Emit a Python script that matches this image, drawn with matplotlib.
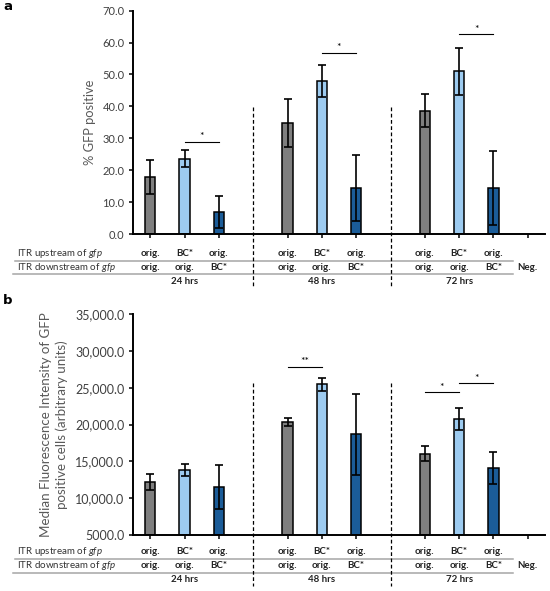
import matplotlib
matplotlib.use("Agg")
import matplotlib.pyplot as plt
from matplotlib.transforms import blended_transform_factory
from matplotlib.lines import Line2D

plt.rcParams['font.family'] = ['Lato', 'DejaVu Sans']
plt.rcParams['mathtext.fontset'] = 'custom'
plt.rcParams['mathtext.rm'] = 'Lato'
plt.rcParams['mathtext.it'] = 'Lato:italic'

# ---------------- data ----------------
slots = [0, 1, 2, 4, 5, 6, 8, 9, 10]
tick_slots = [0, 1, 2, 4, 5, 6, 8, 9, 10, 11]
colors = ['#7f7f7f', '#9dcbf0', '#1b5c98'] * 3
upstream = ['orig.', 'BC*', 'orig.'] * 3
downstream = ['orig.', 'orig.', 'BC*'] * 3
groups = ['24 hrs', '48 hrs', '72 hrs']
group_slots = [1, 5, 9]
neg_label = 'Neg.'

gfp_pos = [17.9, 23.6, 6.8, 34.9, 47.9, 14.5, 38.7, 51.0, 14.5]
gfp_err = [5.3, 2.7, 5.0, 7.5, 5.1, 10.4, 5.2, 7.3, 11.6]
a_ticks = [0, 10, 20, 30, 40, 50, 60, 70]
a_ticklabels = ['0.0', '10.0', '20.0', '30.0', '40.0', '50.0', '60.0', '70.0']
a_sig = [(1, 2, 28.9, '*'), (5, 6, 56.8, '*'), (9, 10, 62.6, '*')]

mfi = [12150, 13850, 11550, 20300, 25450, 18650, 16050, 20750, 14100]
mfi_err = [1080, 850, 2980, 560, 920, 5550, 1070, 1430, 2200]
b_ticks = [5000, 10000, 15000, 20000, 25000, 30000, 35000]
b_ticklabels = ['5000.0', '10,000.0', '15,000.0', '20,000.0', '25,000.0', '30,000.0', '35,000.0']
b_sig = [(4, 5, 27850, '**'), (8, 9, 24370, '*'), (9, 10, 25590, '*')]

W, H = 550, 591
fig = plt.figure(figsize=(W / 100, H / 100), dpi=100)

TFS = 7.0


def fy(px):
    return 1 - px / H


def fx(px):
    return px / W


def panel(top_px, bot_px, vals, errs, ylim, ticks, ticklabels, sig, ylabel,
          tick_fs, ylab_x, ylab_fs, table_y, dash_top, dash_bot, letter, letter_y, ylab_ls=1.2):
    ax = fig.add_axes([fx(133), fy(bot_px), fx(545) - fx(133), fy(top_px) - fy(bot_px)])
    ax.bar(slots, [v - ylim[0] for v in vals], bottom=ylim[0], width=0.31, color=colors,
           edgecolor='black', linewidth=1.1, zorder=2)
    ax.errorbar(slots, vals, yerr=errs, fmt='none', ecolor='black', elinewidth=1.2,
                capsize=2.8, capthick=1.2, zorder=3)
    ax.set_xlim(-0.5, 11.5)
    ax.set_ylim(*ylim)
    ax.set_yticks(ticks)
    ax.set_yticklabels(ticklabels, fontsize=tick_fs, color='#404040')
    ax.set_xticks(tick_slots)
    ax.set_xticklabels([])
    ax.tick_params(axis='x', direction='out', length=3, width=1.1)
    ax.tick_params(axis='y', direction='out', length=3, width=1.1, pad=3)
    for s in ['top', 'right']:
        ax.spines[s].set_visible(False)
    for s in ['left', 'bottom']:
        ax.spines[s].set_linewidth(1.4)
    # significance
    rng = ylim[1] - ylim[0]
    for x0, x1, yv, lab in sig:
        ax.plot([x0, x1], [yv, yv], color='black', lw=0.8, clip_on=False)
        ax.text((x0 + x1) / 2, yv + rng * 0.002, lab, ha='center', va='bottom',
                fontsize=7.5, clip_on=False)
    # y label
    fig.text(fx(ylab_x), (fy(top_px) + fy(bot_px)) / 2, ylabel, rotation=90,
             ha='center', va='center', fontsize=ylab_fs, color='#595959', linespacing=ylab_ls)
    # table
    tr = blended_transform_factory(ax.transData, fig.transFigure)
    r1, l1, r2, l2, r3 = table_y
    for s, u, d in zip(slots, upstream, downstream):
        fig.text(s, fy(r1), u, transform=tr, ha='center', va='center',
                 fontsize=TFS, fontweight='bold', color='#222222')
        fig.text(s, fy(r2), d, transform=tr, ha='center', va='center',
                 fontsize=TFS, fontweight='bold', color='#222222')
    fig.text(11, fy(r2), neg_label, transform=tr, ha='center', va='center',
             fontsize=TFS, fontweight='bold', color='#222222')
    for g, s in zip(groups, group_slots):
        fig.text(s, fy(r3), g, transform=tr, ha='center', va='center',
                 fontsize=TFS, fontweight='bold', color='#222222')
    fig.text(fx(17), fy(r1), r'ITR upstream of $gfp$', ha='left', va='center',
             fontsize=TFS, color='#333333')
    fig.text(fx(17), fy(r2), r'ITR downstream of $gfp$', ha='left', va='center',
             fontsize=TFS, color='#333333')
    fig.add_artist(Line2D([fx(15), fx(513)], [fy(l1), fy(l1)], color='#a6a6a6', lw=1.1))
    fig.add_artist(Line2D([fx(13), fx(513)], [fy(l2), fy(l2)], color='#a6a6a6', lw=1.1))
    for s in [3, 7]:
        fig.add_artist(Line2D([s, s], [fy(dash_top), fy(dash_bot)], transform=tr,
                              color='black', lw=0.9, ls=(0, (3, 2))))
    fig.text(fx(3), fy(letter_y), letter, ha='left', va='center', fontsize=9.5,
             fontweight='bold', family=['DejaVu Sans'])
    return ax


panel(10.7, 234, gfp_pos, gfp_err, (0, 70), a_ticks, a_ticklabels, a_sig,
      '% GFP positive', 8, 90, 9.3, (253, 260.5, 267, 274, 281), 107, 286, 'a', 7)

panel(314, 535, mfi, mfi_err, (5000, 35000), b_ticks, b_ticklabels, b_sig,
      'Median Fluorescence Intensity of GFP\npositive cells (arbitrary units)', 9, 54, 9.6,
      (552, 559, 566, 573, 580), 383, 586, 'b', 300, ylab_ls=1.4)

fig.savefig('out.png', dpi=100)
